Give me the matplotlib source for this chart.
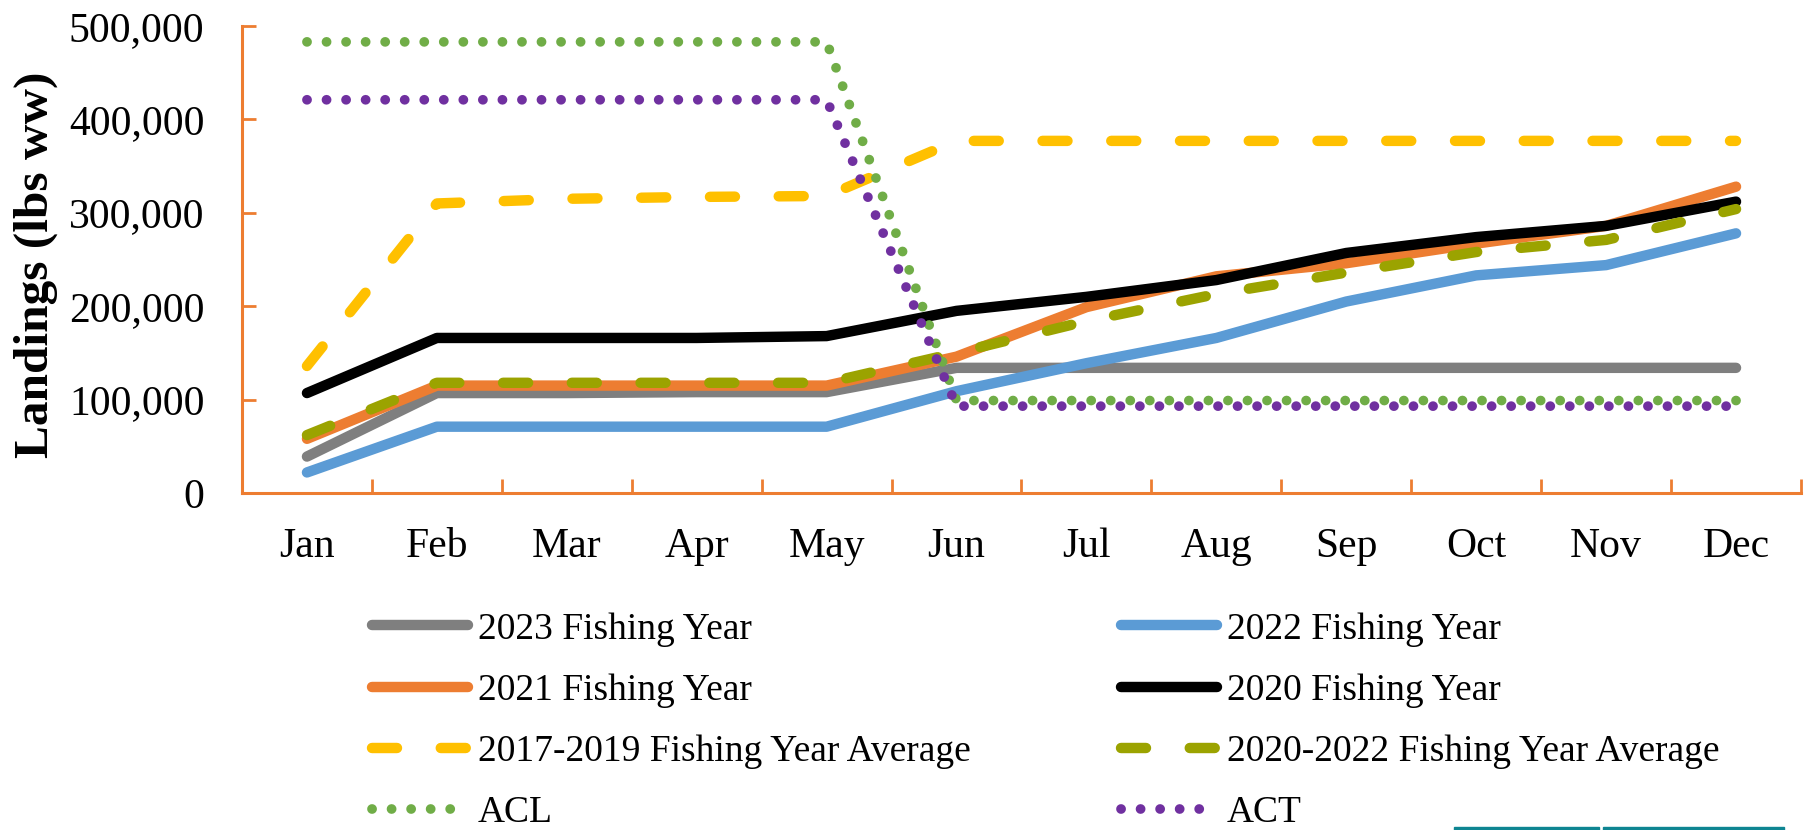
import matplotlib
matplotlib.use("Agg")
import matplotlib.pyplot as plt
from matplotlib.ticker import FuncFormatter, FixedLocator
from matplotlib.patches import Rectangle

plt.rcParams['font.family'] = ['Liberation Serif', 'DejaVu Serif']

months = ['Jan', 'Feb', 'Mar', 'Apr', 'May', 'Jun', 'Jul', 'Aug', 'Sep', 'Oct', 'Nov', 'Dec']
fy2023 = [39000, 107000, 107000, 108000, 108000, 134000, 134000, 134000, 134000, 134000, 134000, 134000]
fy2022 = [22000, 71000, 71000, 71000, 71000, 109000, 139000, 166000, 205000, 233000, 244000, 278000]
fy2021 = [58000, 115000, 115000, 115000, 115000, 146000, 199000, 232000, 246000, 267000, 286000, 328000]
fy2020 = [107000, 166000, 166000, 166000, 168000, 195000, 210000, 228000, 257000, 274000, 286000, 312000]
avg_2017_2019 = [136000, 310000, 315000, 317000, 318000, 377000, 377000, 377000, 377000, 377000, 377000, 377000]
avg_2020_2022 = [62000, 118000, 118000, 118000, 118000, 150000, 184000, 213000, 236000, 258000, 271000, 304000]
acl = [483000, 483000, 483000, 483000, 483000, 99000, 99000, 99000, 99000, 99000, 99000, 99000]
act = [421000, 421000, 421000, 421000, 421000, 93000, 93000, 93000, 93000, 93000, 93000, 93000]

labels = ['2023 Fishing Year', '2022 Fishing Year', '2021 Fishing Year', '2020 Fishing Year',
          '2017-2019 Fishing Year Average', '2020-2022 Fishing Year Average', 'ACL', 'ACT']
yticks = [0, 100000, 200000, 300000, 400000, 500000]

ORANGE = '#ED7D31'
W, H = 1808, 830
fig = plt.figure(figsize=(W / 100, H / 100), dpi=100)
L, R, T, B = 242, 1801, 26, 493
ax = fig.add_axes([L / W, 1 - B / H, (R - L) / W, (B - T) / H])

x = list(range(len(months)))
solid_lw = 7.5
dot_lw = 7.0
dash = (0, (2.4, 4.2))
dot = (0, (0.01, 2.0))

series = [
    (fy2023, '#7F7F7F', '-', solid_lw),
    (fy2022, '#5B9BD5', '-', solid_lw),
    (fy2021, ORANGE, '-', solid_lw),
    (fy2020, '#000000', '-', solid_lw),
    (avg_2017_2019, '#FFC000', dash, solid_lw),
    (avg_2020_2022, '#9BA300', dash, solid_lw),
    (acl, '#70AD47', dot, dot_lw),
    (act, '#7030A0', dot, dot_lw),
]
handles = []
for (vals, col, ls, lw), lab in zip(series, labels):
    ln, = ax.plot(x, vals, color=col, linestyle=ls, linewidth=lw, label=lab,
                  solid_capstyle='round', dash_capstyle='round', solid_joinstyle='round')
    handles.append(ln)

ax.set_xlim(-0.5, 11.5)
ax.set_ylim(0, 500000)

for s in ['top', 'right']:
    ax.spines[s].set_visible(False)
for s in ['left', 'bottom']:
    ax.spines[s].set_color(ORANGE)
    ax.spines[s].set_linewidth(2.2)

ax.set_yticks(yticks)
ax.yaxis.set_major_formatter(FuncFormatter(lambda v, p: f'{int(v):,}'))
ax.tick_params(axis='y', direction='in', length=10, width=2, color=ORANGE,
               labelsize=30, pad=27, labelcolor='black')
ax.set_xticks(x)
ax.set_xticklabels(months)
ax.xaxis.set_minor_locator(FixedLocator([i - 0.5 for i in range(13)]))
ax.tick_params(axis='x', which='major', length=0, labelsize=30, pad=25)
ax.tick_params(axis='x', which='minor', direction='in', length=10, width=2, color=ORANGE)

fig.text(36 / W, 1 - 265 / H, 'Landings (lbs ww)', rotation=90, ha='center', va='center',
         fontsize=35.5, fontweight='bold')

leg_kw = dict(frameon=False, fontsize=27, handlelength=2.56, handletextpad=0.27,
              labelspacing=0.715, borderpad=0, borderaxespad=0, loc='upper left')
fig.legend(handles[0::2], labels[0::2], bbox_to_anchor=(372 / W, 1 - 612 / H), **leg_kw)
fig.legend(handles[1::2], labels[1::2], bbox_to_anchor=(1121 / W, 1 - 612 / H), **leg_kw)

for x0, x1 in [(1454, 1599), (1603, 1784)]:
    fig.patches.append(Rectangle((x0 / W, 0), (x1 - x0) / W, 3 / H, transform=fig.transFigure,
                                 color='#0E8592', zorder=5))

fig.savefig('out.png', dpi=100)
